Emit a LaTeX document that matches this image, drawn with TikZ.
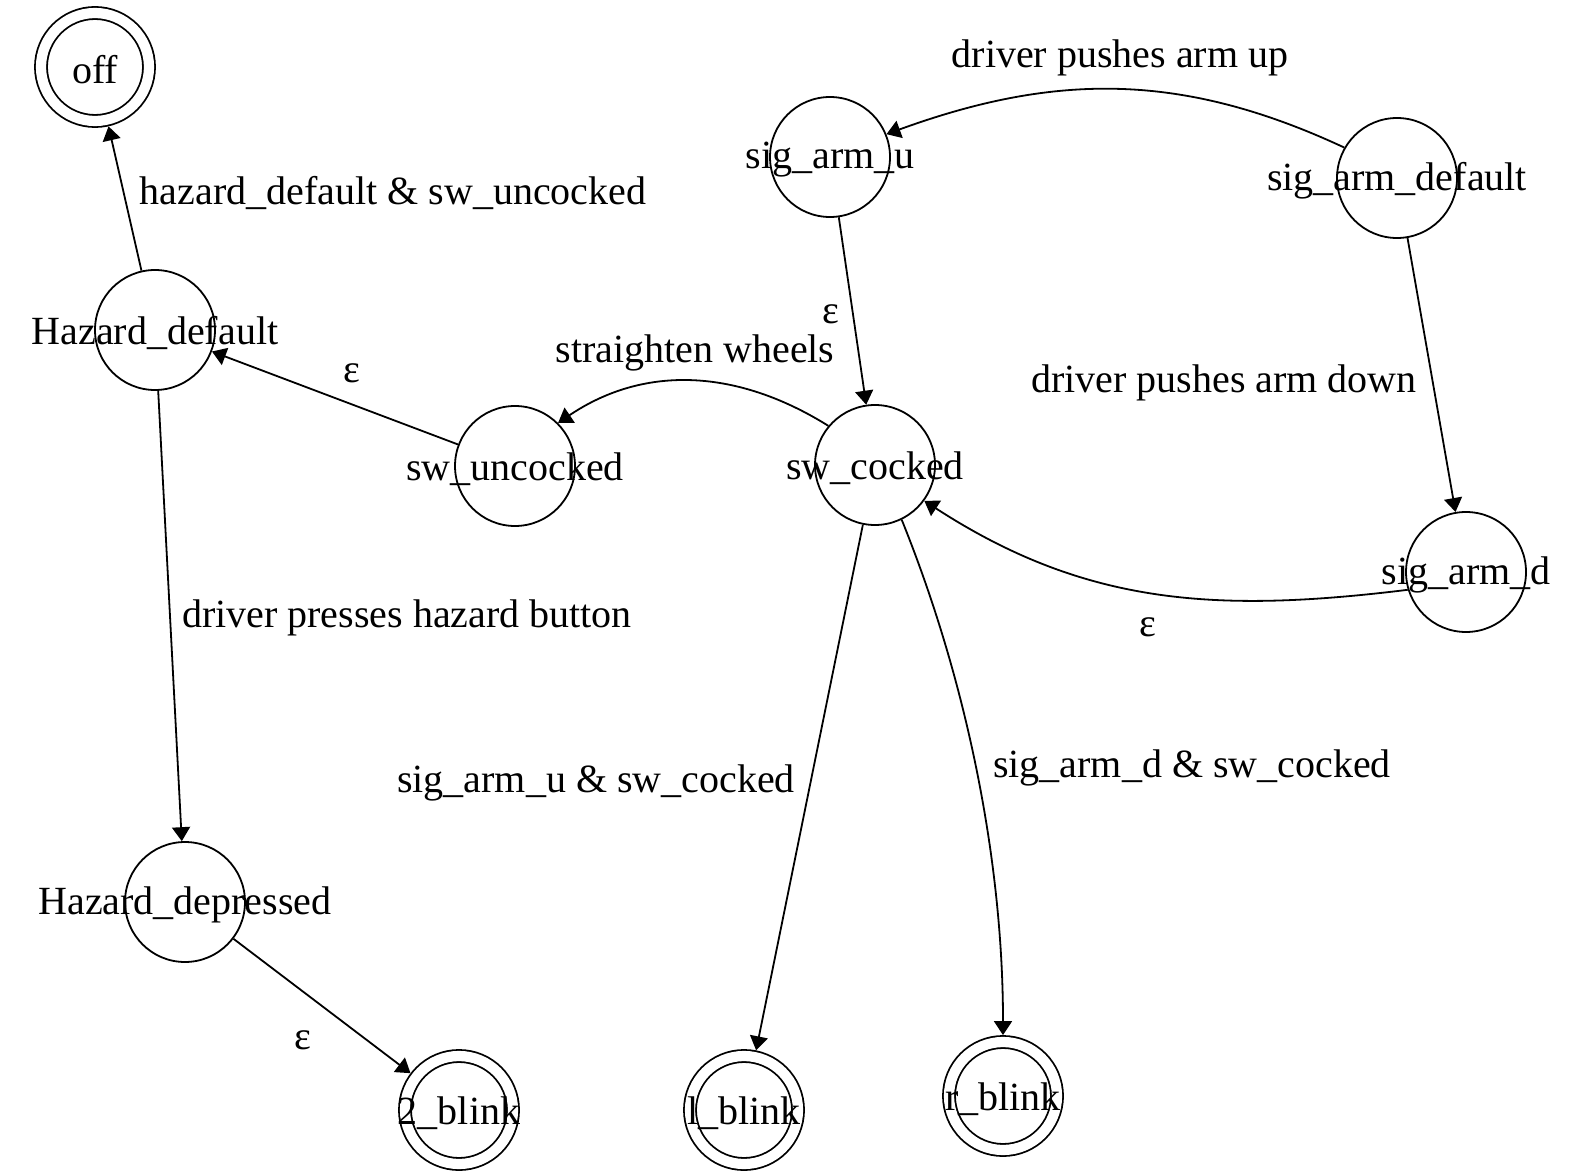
\documentclass[tikz,border=0pt]{standalone}
\usepackage{fontspec}
\setmainfont{Liberation Serif}
\usetikzlibrary{arrows.meta}

\begin{document}
\begin{tikzpicture}[x=0.5pt, y=-0.5pt,
    font=\fontsize{20}{24}\selectfont,
    state/.style={circle, draw, line width=0.9pt, minimum size=60pt, inner sep=0pt},
    final/.style={state, double, double distance=5.1pt, minimum size=54pt, outer sep=3.45pt},
    trans/.style={line width=0.9pt, -{Triangle[length=7pt, width=9pt]}},
    every label/.style={yshift=-1.5pt},
    lbl/.style={inner sep=0pt, yshift=-1.5pt}]
    \useasboundingbox (0,0) rectangle (1572,1176);

    % Hazard side
    \node[final, label=center:off] (off) at (95,67) {};
    \node[state, label=center:Hazard\_default] (hzdef) at (155,330) {};
    \node[state, label=center:Hazard\_depressed] (hzdep) at (185,902) {};
    \node[final, label=center:2\_blink] (blinktwo) at (459,1110) {};

    % Steering wheel
    \node[state, label=center:sw\_uncocked] (uncocked) at (515,466) {};
    \node[state, label=center:sw\_cocked] (cocked) at (875,465) {};

    % Signal arm
    \node[state, label=center:sig\_arm\_u] (armup) at (830,157) {};
    \node[state, label=center:sig\_arm\_default] (armdef) at (1397,178) {};
    \node[state, label=center:sig\_arm\_d] (armdown) at (1466,572) {};

    % Blinkers
    \node[final, label=center:l\_blink] (blinkl) at (744,1110) {};
    \node[final, label=center:r\_blink] (blinkr) at (1003,1096) {};

    % Transitions
    \draw[trans] (hzdef) -- (off);
    \draw[trans] (uncocked) -- (hzdef);
    \draw[trans] (hzdef) -- (hzdep);
    \draw[trans] (hzdep) -- (blinktwo);
    \draw[trans] (armdef.150) to[out=155, in=20] (armup.22);
    \draw[trans] (armdef) -- (armdown);
    \draw[trans] (armup) -- (cocked);
    \draw[trans] (cocked.140) to[out=148, in=34] (uncocked.45);
    \draw[trans] (armdown.197) to[out=187, in=327] (cocked.324);
    \draw[trans] (cocked) -- (blinkl);
    \draw[trans] (cocked.296) to[out=292, in=90, looseness=0.85] (blinkr.90);

    % Transition labels
    \node[lbl] (t1) at (393,190) {hazard\_default \& sw\_uncocked};
    \node[lbl] (t2) at (352,370) {ε};
    \node[lbl] (t3) at (407,615) {driver presses hazard button};
    \node[lbl] (t4) at (303,1037) {ε};
    \node[lbl] (t5) at (1120,55) {driver pushes arm up};
    \node[lbl] (t6) at (1224,380) {driver pushes arm down};
    \node[lbl] (t7) at (831,311) {ε};
    \node[lbl] (t8) at (695,350) {straighten wheels};
    \node[lbl] (t9) at (1148,624) {ε};
    \node[lbl] (t10) at (596,780) {sig\_arm\_u \& sw\_cocked};
    \node[lbl] (t11) at (1192,765) {sig\_arm\_d \& sw\_cocked};
\end{tikzpicture}
\end{document}
